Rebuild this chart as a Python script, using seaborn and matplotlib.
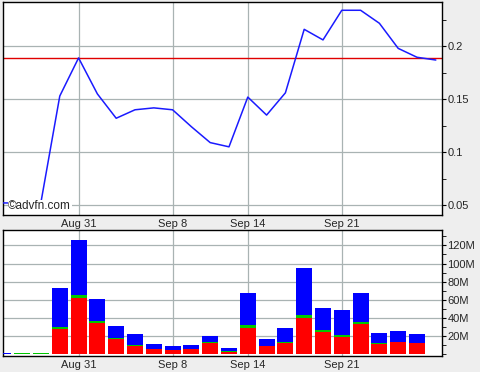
import numpy as np
import pandas as pd
import seaborn as sns
import matplotlib.pyplot as plt
from matplotlib.ticker import FixedLocator, MultipleLocator

# trading days Aug 25 .. Sep 28
day_idx = list(range(24))
price = [0.052, 0.052, 0.0528, 0.153, 0.189, 0.155, 0.132, 0.140, 0.1418, 0.140,
         0.124, 0.109, 0.105, 0.152, 0.135, 0.156, 0.216, 0.206, 0.234, 0.234,
         0.2217, 0.198, 0.1896, 0.187]
prev_close = 0.189

# volume in millions (23 days)
vol_total = [2.0, 2.0, 2.0, 73, 126, 61, 31, 22, 11, 9, 10, 20, 6.6, 68, 16.5,
             28.7, 95, 51, 48.5, 68, 23, 25.4, 22]
vol_green = [0, 1.0, 1.0, 30, 65, 37, 18, 10, 6, 4.4, 6, 13.6, 3.7, 32, 8.8,
             13.6, 43, 26.5, 21.3, 35.3, 12.5, 13.6, 12.5]
vol_red = [0, 0, 0, 28, 62, 35, 17, 9, 6, 4.4, 6, 12.5, 2.6, 28.7, 8.8,
           12.5, 40, 24.3, 19.1, 33.1, 11, 13.6, 12.5]

tick_pos = [4, 9, 13, 18]
tick_labels = ['Aug 31', 'Sep 8', 'Sep 14', 'Sep 21']

sns.set_style('white')
plt.rcParams['font.family'] = ['Liberation Sans', 'DejaVu Sans']

fig = plt.figure(figsize=(4.8, 3.72), dpi=100, facecolor='#eeeeee')
ax1 = fig.add_axes([0.00625, 0.422, 0.9146, 0.5726])
ax2 = fig.add_axes([0.00625, 0.043, 0.9146, 0.339])

grid_kw = dict(color='#a9b3b3', linewidth=0.9)
xlim = (-0.02, 23.33)

# price panel
sns.lineplot(x=day_idx, y=price, color='#1a1aff', linewidth=1.1, ax=ax1, zorder=3)
ax1.axhline(prev_close, color='#e00000', linewidth=1.0, zorder=2)
ax1.set_xlim(*xlim)
ax1.set_ylim(0.0406, 0.2418)
ax1.yaxis.set_major_locator(FixedLocator([0.05, 0.1, 0.15, 0.2]))
ax1.set_yticklabels(['0.05', '0.1', '0.15', '0.2'])
ax1.yaxis.set_minor_locator(FixedLocator([0.075, 0.125, 0.175, 0.225]))
ax1.text(0.012, 0.04, '\u00a9advfn.com', transform=ax1.transAxes, fontsize=8.5,
         ha='left', va='center', zorder=5,
         bbox=dict(facecolor='white', edgecolor='none', pad=0.3))

# volume panel
d = pd.DataFrame({'day': day_idx[:23], 'total': vol_total,
                  'green': vol_green, 'red': vol_red})
for col, c in [('total', '#0000ff'), ('green', '#00c800'), ('red', '#ff0000')]:
    sns.barplot(data=d, x='day', y=col, native_scale=True, color=c,
                saturation=1, width=0.85, linewidth=0, ax=ax2, zorder=3)
ax2.set_xlim(*xlim)
ax2.set_ylim(-1.8, 137)
ax2.yaxis.set_major_locator(FixedLocator([20, 40, 60, 80, 100, 120]))
ax2.set_yticklabels([f'{v}M' for v in [20, 40, 60, 80, 100, 120]])
ax2.yaxis.set_minor_locator(MultipleLocator(10))

for ax in (ax1, ax2):
    ax.set_facecolor('white')
    ax.set_xlabel('')
    ax.set_ylabel('')
    ax.set_xticks(tick_pos)
    ax.set_xticklabels(tick_labels)
    ax.grid(True, which='major', **grid_kw)
    ax.set_axisbelow(True)
    ax.yaxis.tick_right()
    ax.tick_params(axis='y', which='both', direction='out', right=True, left=False,
                   labelsize=8, pad=1, color='black', length=3)
    ax.tick_params(axis='x', direction='out', length=2, labelsize=8, pad=1,
                   color='black')
    for s in ax.spines.values():
        s.set_color('black')
        s.set_linewidth(1.0)

fig.savefig('out.png', dpi=100, facecolor=fig.get_facecolor())
